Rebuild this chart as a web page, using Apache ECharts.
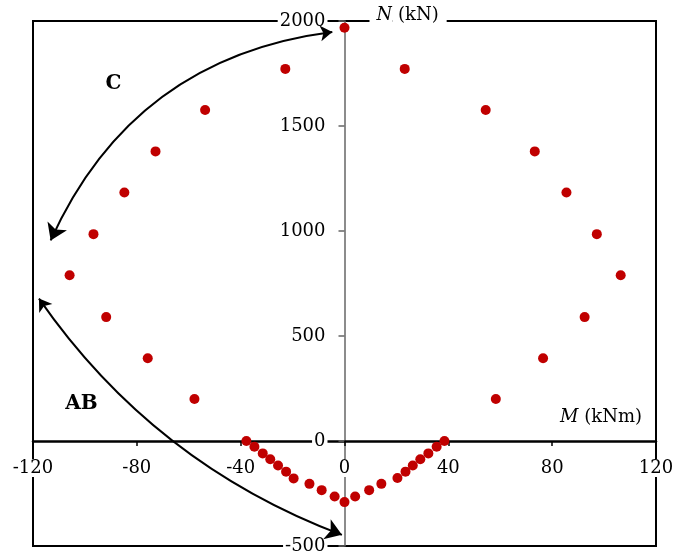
<!DOCTYPE html>
<html>
<head>
<meta charset="utf-8">
<script src="https://cdn.jsdelivr.net/npm/echarts@6/dist/echarts.min.js"></script>
<style>
  html, body { margin: 0; padding: 0; background: #fff; }
  #chart { width: 675px; height: 556px; }
</style>
</head>
<body>
<div id="chart"></div>
<script>
// M (kNm), N (kN) pairs read around the interaction curve
const momentM = [
  0, -22.8, -53.7, -72.8, -84.8, -96.7, -105.9, -91.8, -75.8, -57.8,
  -37.8, -34.7, -31.5, -28.6, -25.6, -22.5, -19.6, -13.5, -8.8, -3.8, 0,
  4.1, 9.5, 14.2, 20.4, 23.5, 26.3, 29.2, 32.3, 35.5, 38.5,
  58.3, 76.5, 92.5, 106.4, 97.2, 85.5, 73.3, 54.4, 23.2
];
const axialN = [
  1968, 1772, 1576, 1379, 1183, 985, 789, 590, 394, 200,
  0, -27, -59, -87, -117, -146, -178, -204, -234, -264, -291,
  -264, -234, -204, -176, -146, -117, -87, -59, -27, 0,
  200, 394, 590, 789, 985, 1183, 1379, 1576, 1772
];

const xTicks = { min: -120, max: 120, step: 40 };
const yTicks = { min: -500, max: 2000, step: 500 };

// annotation arrows (ends in data units) and region labels
const arrowC = [[-4.7, 1948], [-113.2, 955]];
const arrowAB = [[-117.7, 678], [-1, -447]];
const regionNames = ['C', 'AB'];
const regionM = [-89, -101.3];
const regionN = [1700, 176];

const FONT = 'DejaVu Serif';
const chart = echarts.init(document.getElementById('chart'));

// plot box, in px
const G = { left: 33, right: 19, top: 21, bottom: 10 };
const plotW = 675 - G.left - G.right;
const plotH = 556 - G.top - G.bottom;
// move the axes to the M = 0 / N = 0 lines
const yAxisOffset = -plotW * (0 - xTicks.min) / (xTicks.max - xTicks.min);
const xAxisOffset = -plotH * (0 - yTicks.min) / (yTicks.max - yTicks.min);

const points = momentM.map((m, i) => [m, axialN[i]]);
const regions = regionNames.map((n, i) => ({ name: n, value: [regionM[i], regionN[i]] }));

chart.setOption({
  animation: false,
  backgroundColor: '#fff',
  grid: {
    left: G.left, right: G.right, top: G.top, bottom: G.bottom,
    show: true,
    borderColor: '#000',
    borderWidth: 2,
    containLabel: false,
    outerBoundsMode: 'none'
  },
  xAxis: {
    type: 'value',
    position: 'bottom',
    offset: xAxisOffset,
    min: xTicks.min, max: xTicks.max, interval: xTicks.step,
    name: '{i|M} (kNm)',
    nameLocation: 'end',
    nameGap: -14,
    nameMoveOverlap: false,
    nameTextStyle: {
      align: 'right', verticalAlign: 'bottom',
      fontFamily: FONT, fontSize: 18, color: '#000',
      padding: [0, 0, 15, 0],
      rich: { i: { fontStyle: 'italic', fontFamily: FONT, fontSize: 18, color: '#000' } }
    },
    axisLine: { onZero: false, lineStyle: { color: '#000', width: 2.5 } },
    axisTick: { show: true, inside: false, length: 5, lineStyle: { color: '#000', width: 1.5 } },
    axisLabel: {
      margin: 18, fontFamily: FONT, fontSize: 18, color: '#000',
      backgroundColor: '#fff', padding: [0, 2],
      formatter: (v) => String(v)
    },
    splitLine: { show: false }
  },
  yAxis: {
    type: 'value',
    position: 'left',
    offset: yAxisOffset,
    min: yTicks.min, max: yTicks.max, interval: yTicks.step,
    name: '{s|}{i|N}{t| (kN)}',
    nameLocation: 'end',
    nameGap: 6,
    nameMoveOverlap: false,
    nameTextStyle: {
      align: 'left', verticalAlign: 'middle',
      fontFamily: FONT, fontSize: 18, color: '#000',
      rich: {
        s: { width: 25 },
        i: { fontStyle: 'italic', fontFamily: FONT, fontSize: 18, color: '#000',
             backgroundColor: '#fff', padding: [2, 0, 2, 7] },
        t: { fontFamily: FONT, fontSize: 18, color: '#000',
             backgroundColor: '#fff', padding: [2, 8, 2, 0] }
      }
    },
    axisLine: { onZero: false, lineStyle: { color: '#666', width: 1.5 } },
    axisTick: { show: true, inside: false, length: 6, lineStyle: { color: '#666', width: 1.5 } },
    axisLabel: {
      margin: 17, fontFamily: FONT, fontSize: 18, color: '#000',
      backgroundColor: '#fff', padding: [0, 2],
      formatter: (v) => String(v)
    },
    splitLine: { show: false }
  },
  series: [
    {
      type: 'lines',
      coordinateSystem: 'cartesian2d',
      symbol: ['arrow', 'arrow'],
      symbolSize: [12, 16],
      lineStyle: { color: '#000', width: 2, curveness: -0.28, opacity: 1 },
      data: [{ coords: arrowC }],
      z: 3
    },
    {
      type: 'lines',
      coordinateSystem: 'cartesian2d',
      symbol: ['arrow', 'arrow'],
      symbolSize: [12, 16],
      lineStyle: { color: '#000', width: 2, curveness: -0.156, opacity: 1 },
      data: [{ coords: arrowAB }],
      z: 3
    },
    {
      type: 'scatter',
      data: points,
      symbol: 'circle',
      symbolSize: 10,
      itemStyle: { color: '#c00000', opacity: 1 },
      z: 4
    },
    {
      type: 'scatter',
      data: regions,
      symbolSize: 0,
      itemStyle: { opacity: 1 },
      label: {
        show: true, position: 'inside', formatter: '{b}',
        fontFamily: FONT, fontSize: 20, fontWeight: 'bold', color: '#000'
      },
      z: 4
    }
  ]
});
</script>
</body>
</html>
